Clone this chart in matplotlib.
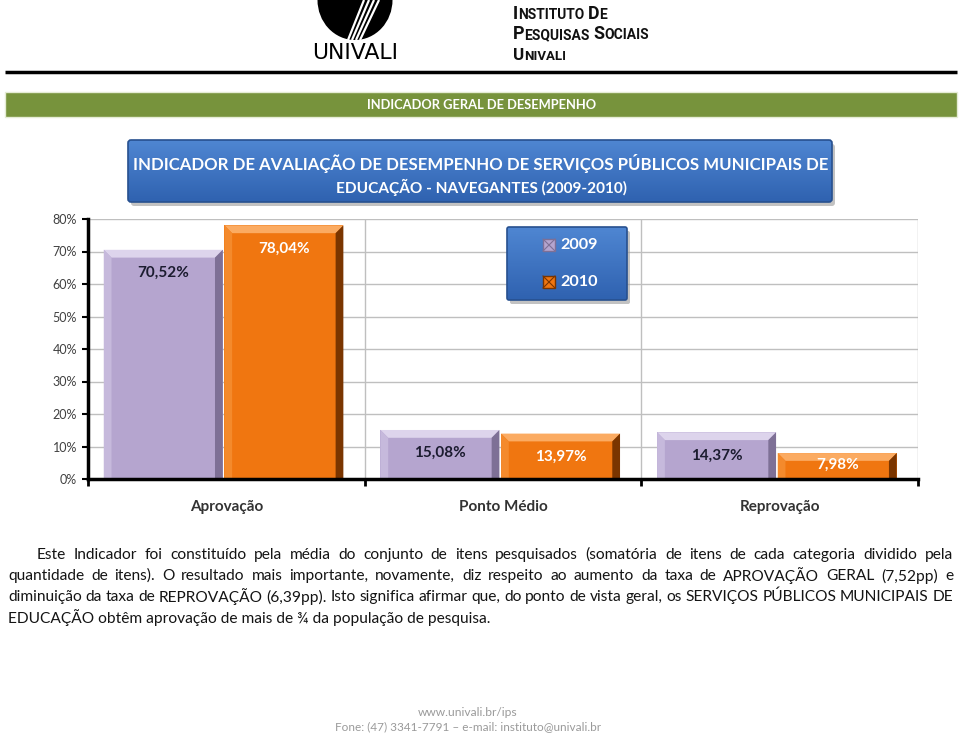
import matplotlib
matplotlib.use('Agg')
import matplotlib.pyplot as plt
from matplotlib.patches import Rectangle, Polygon, FancyBboxPatch, Ellipse
from matplotlib.ticker import FixedLocator
import numpy as np

# ---------------- data ----------------
categories = ['Aprovação', 'Ponto Médio', 'Reprovação']
series_names = ['2009', '2010']
values_2009 = [70.52, 15.08, 14.37]
values_2010 = [78.04, 13.97, 7.98]
labels_2009 = ['70,52%', '15,08%', '14,37%']
labels_2010 = ['78,04%', '13,97%', '7,98%']
yticks = [0, 10, 20, 30, 40, 50, 60, 70, 80]
ytick_labels = ['0%', '10%', '20%', '30%', '40%', '50%', '60%', '70%', '80%']

chart_title = ['INDICADOR DE AVALIAÇÃO DE DESEMPENHO DE SERVIÇOS PÚBLICOS MUNICIPAIS DE',
               'EDUCAÇÃO - NAVEGANTES (2009-2010)']
band_title = 'INDICADOR GERAL DE DESEMPENHO'
paragraph = [
    'Este Indicador foi constituído pela média do conjunto de itens pesquisados (somatória de itens de cada categoria dividido pela',
    'quantidade de itens). O resultado mais importante, novamente, diz respeito ao aumento da taxa de APROVAÇÃO GERAL (7,52pp) e',
    'diminuição da taxa de REPROVAÇÃO (6,39pp). Isto significa afirmar que, do ponto de vista geral, os SERVIÇOS PÚBLICOS MUNICIPAIS DE',
    'EDUCAÇÃO obtêm aprovação de mais de ¾ da população de pesquisa.',
]
footer = ['www.univali.br/ips', 'Fone: (47) 3341-7791 – e-mail: instituto@univali.br']

W, H = 960, 735
FONT = ['Lato', 'DejaVu Sans']
fig = plt.figure(figsize=(W / 100, H / 100), dpi=100)
renderer = fig.canvas.get_renderer()


def pix_axes(z):
    a = fig.add_axes([0, 0, 1, 1], zorder=z)
    a.set_xlim(0, W)
    a.set_ylim(H, 0)
    a.axis('off')
    a.patch.set_alpha(0)
    return a


bg = pix_axes(0)
fg = pix_axes(5)


def fit(axo, x, y, s, width, **kw):
    t = axo.text(x, y, s, fontsize=10, **kw)
    w = t.get_window_extent(renderer).width
    t.set_fontsize(10 * width / w)
    return t


def text_w(axo, s, fs, **kw):
    t = axo.text(0, 0, s, fontsize=fs, **kw)
    w = t.get_window_extent(renderer).width
    t.remove()
    return w


def gradient_box(axo, x0, y0, w, h, ctop, cbot, edge, rad=3, z=1):
    sh = FancyBboxPatch((x0 + 3, y0 + 4), w, h, boxstyle='round,pad=0,rounding_size=%d' % rad,
                        fc='#9a9a9a', ec='none', alpha=0.6, zorder=z)
    axo.add_patch(sh)
    box = FancyBboxPatch((x0, y0), w, h, boxstyle='round,pad=0,rounding_size=%d' % rad,
                         fc='none', ec=edge, lw=1.2, zorder=z + 2)
    axo.add_patch(box)
    c1 = np.array(matplotlib.colors.to_rgb(ctop))
    c2 = np.array(matplotlib.colors.to_rgb(cbot))
    t = np.linspace(0, 1, 64)[:, None]
    img = (c1 * (1 - t) + c2 * t)[:, None, :]
    im = axo.imshow(img, extent=(x0, x0 + w, y0 + h, y0), origin='upper', aspect='auto', zorder=z + 1)
    im.set_clip_path(box)
    axo.set_xlim(0, W)
    axo.set_ylim(H, 0)


# ---------------- header ----------------
logo = Ellipse((355, 0), 75, 80, fc='black', ec='none')
bg.add_patch(logo)
bg.add_patch(Rectangle((310, -20), 100, 20, fc='white', ec='none'))
for k in range(4):
    bg.plot([364 + 5 * k, 348 + 4 * k], [0, 40], color='white', lw=1.6, solid_capstyle='butt', zorder=2)
fit(bg, 355, 53, 'UNIVALI', 86, ha='center', va='center', family=['DejaVu Sans'], color='black')


def small_caps(axo, x, y, s, width, **kw):
    ratio = 0.78
    def build(f):
        parts = []
        xx = 0
        for wi, word in enumerate(s.split(' ')):
            if wi > 0:
                xx += text_w(axo, ' ', f * ratio, **kw)
            first, rest = word[0], word[1:]
            parts.append((xx, first, f))
            xx += text_w(axo, first, f, **kw)
            parts.append((xx, rest.upper(), f * ratio))
            xx += text_w(axo, rest.upper(), f * ratio, **kw)
        return parts, xx
    parts, tot = build(12)
    f = 12 * width / tot
    parts, tot = build(f)
    for px, txt, fs in parts:
        axo.text(x + px, y, txt, fontsize=fs, ha='left', va='baseline', **kw)


hk = dict(family=['Roboto', 'DejaVu Sans'], weight='bold', color='#111111')
small_caps(bg, 513, 19, 'Instituto De', 94, **hk)
small_caps(bg, 513, 39, 'Pesquisas Sociais', 137, **hk)
small_caps(bg, 513, 60, 'Univali', 53, **hk)
bg.plot([5, 957], [72, 72], color='black', lw=2.5, solid_capstyle='butt')

# green band
bg.add_patch(Rectangle((5, 92), 952, 25, fc='#77933c', ec='#e5ecd5', lw=1))
fit(bg, 482, 104.5, band_title, 229, ha='center', va='center', color='white', family=FONT, weight='bold')

# chart title box
gradient_box(bg, 128, 140, 704, 62, '#4f86d2', '#2f62b0', '#27508f')
fit(bg, 481, 163, chart_title[0], 694, ha='center', va='center', color='white', family=FONT, weight='bold')
fit(bg, 481, 187, chart_title[1], 292, ha='center', va='center', color='white', family=FONT, weight='bold')

# ---------------- chart ----------------
ax = fig.add_axes([88 / W, 1 - 479 / H, 830 / W, 260 / H], zorder=2)
ax.patch.set_alpha(0)
ax.set_xlim(-0.5, 2.5)
ax.set_ylim(0, 80)
x = np.arange(len(categories))
bw = 0.43
off = 0.218
shift = -0.01

styles = [
    dict(face='#b5a5cf', top='#ddd4ec', left='#c6b9dc', right='#7e7096', lab='#1c1c30'),
    dict(face='#f07610', top='#fbab62', left='#f48a2c', right='#7a3500', lab='white'),
]
series = [values_2009, values_2010]
labels = [labels_2009, labels_2010]
for si, (vals, labs, st) in enumerate(zip(series, labels, styles)):
    pos = x + shift + (off if si else -off)
    bars = ax.bar(pos, vals, width=bw, color=st['face'], edgecolor='none', zorder=3)
    dx, dy = 0.028, 2.4
    for b, lab in zip(bars, labs):
        x0, w, h = b.get_x(), b.get_width(), b.get_height()
        ax.add_patch(Polygon([(x0, h), (x0 + w, h), (x0 + w - dx, h - dy), (x0 + dx, h - dy)],
                             closed=True, fc=st['top'], ec='none', zorder=4))
        ax.add_patch(Polygon([(x0, 0), (x0, h), (x0 + dx, h - dy), (x0 + dx, 0)],
                             closed=True, fc=st['left'], ec='none', zorder=4))
        ax.add_patch(Polygon([(x0 + w, 0), (x0 + w, h), (x0 + w - dx, h - dy), (x0 + w - dx, 0)],
                             closed=True, fc=st['right'], ec='none', zorder=4))
        ly = max(h - 7.1, 4.4)
        ax.text(x0 + w / 2, ly, lab, ha='center', va='center', color=st['lab'],
                fontsize=11, weight='bold', family=FONT, zorder=6)

ax.set_yticks(yticks)
ax.set_yticklabels(ytick_labels, family=FONT, fontsize=9, color='#404040')
ax.set_xticks(x)
ax.set_xticklabels(categories, family=FONT, fontsize=11, weight='bold', color='#333333')
ax.xaxis.set_minor_locator(FixedLocator([-0.5, 0.5, 1.5, 2.5]))
ax.tick_params(axis='x', which='major', length=0, pad=15)
ax.tick_params(axis='x', which='minor', length=5, width=2, color='black', direction='out')
ax.tick_params(axis='y', length=4, width=1.5, color='black', pad=4)
ax.grid(axis='y', which='major', color='#bfbfbf', lw=1, zorder=0)
ax.grid(axis='x', which='minor', color='#bfbfbf', lw=1, zorder=0)
for s in ['top', 'right']:
    ax.spines[s].set_visible(False)
for s in ['left', 'bottom']:
    ax.spines[s].set_linewidth(2.5)
    ax.spines[s].set_color('black')
    ax.spines[s].set_zorder(5)

# legend
gradient_box(fg, 507, 227, 120, 73, '#4f86d2', '#2f62b0', '#27508f', rad=2)
for si, (name, st, yy) in enumerate(zip(series_names, styles, [245, 282])):
    fg.add_patch(Rectangle((543, yy - 6), 12, 12, fc=st['face'], ec=st['right'], lw=1, zorder=10))
    fg.plot([543, 555], [yy - 6, yy + 6], color=st['right'], lw=0.8, zorder=11)
    fg.plot([543, 555], [yy + 6, yy - 6], color=st['right'], lw=0.8, zorder=11)
    fit(fg, 560, yy, name, 38, ha='left', va='center', color='white', family=FONT, weight='bold', zorder=12)

# ---------------- paragraph ----------------
pk = dict(family=FONT, color='#141414')
nat = text_w(bg, paragraph[-1], 10, **pk)
pfs = 10 * 482 / nat
ys = [555, 576, 597, 618]
for li, (line, yy) in enumerate(zip(paragraph, ys)):
    x0 = 37 if li == 0 else 8
    if li == len(paragraph) - 1:
        bg.text(x0, yy, line, fontsize=pfs, ha='left', va='center', **pk)
        continue
    words = line.split(' ')
    ws = [text_w(bg, w, pfs, **pk) for w in words]
    gap = (953 - x0 - sum(ws)) / (len(words) - 1)
    xx = x0
    for w, wd in zip(words, ws):
        bg.text(xx, yy, w, fontsize=pfs, ha='left', va='center', **pk)
        xx += wd + gap

# footer
fit(bg, 468, 712, footer[0], 100, ha='center', va='center', color='#9a9a9a', family=FONT)
fit(bg, 468, 727, footer[1], 264, ha='center', va='center', color='#9a9a9a', family=FONT)

fig.savefig('out.png', dpi=100)
